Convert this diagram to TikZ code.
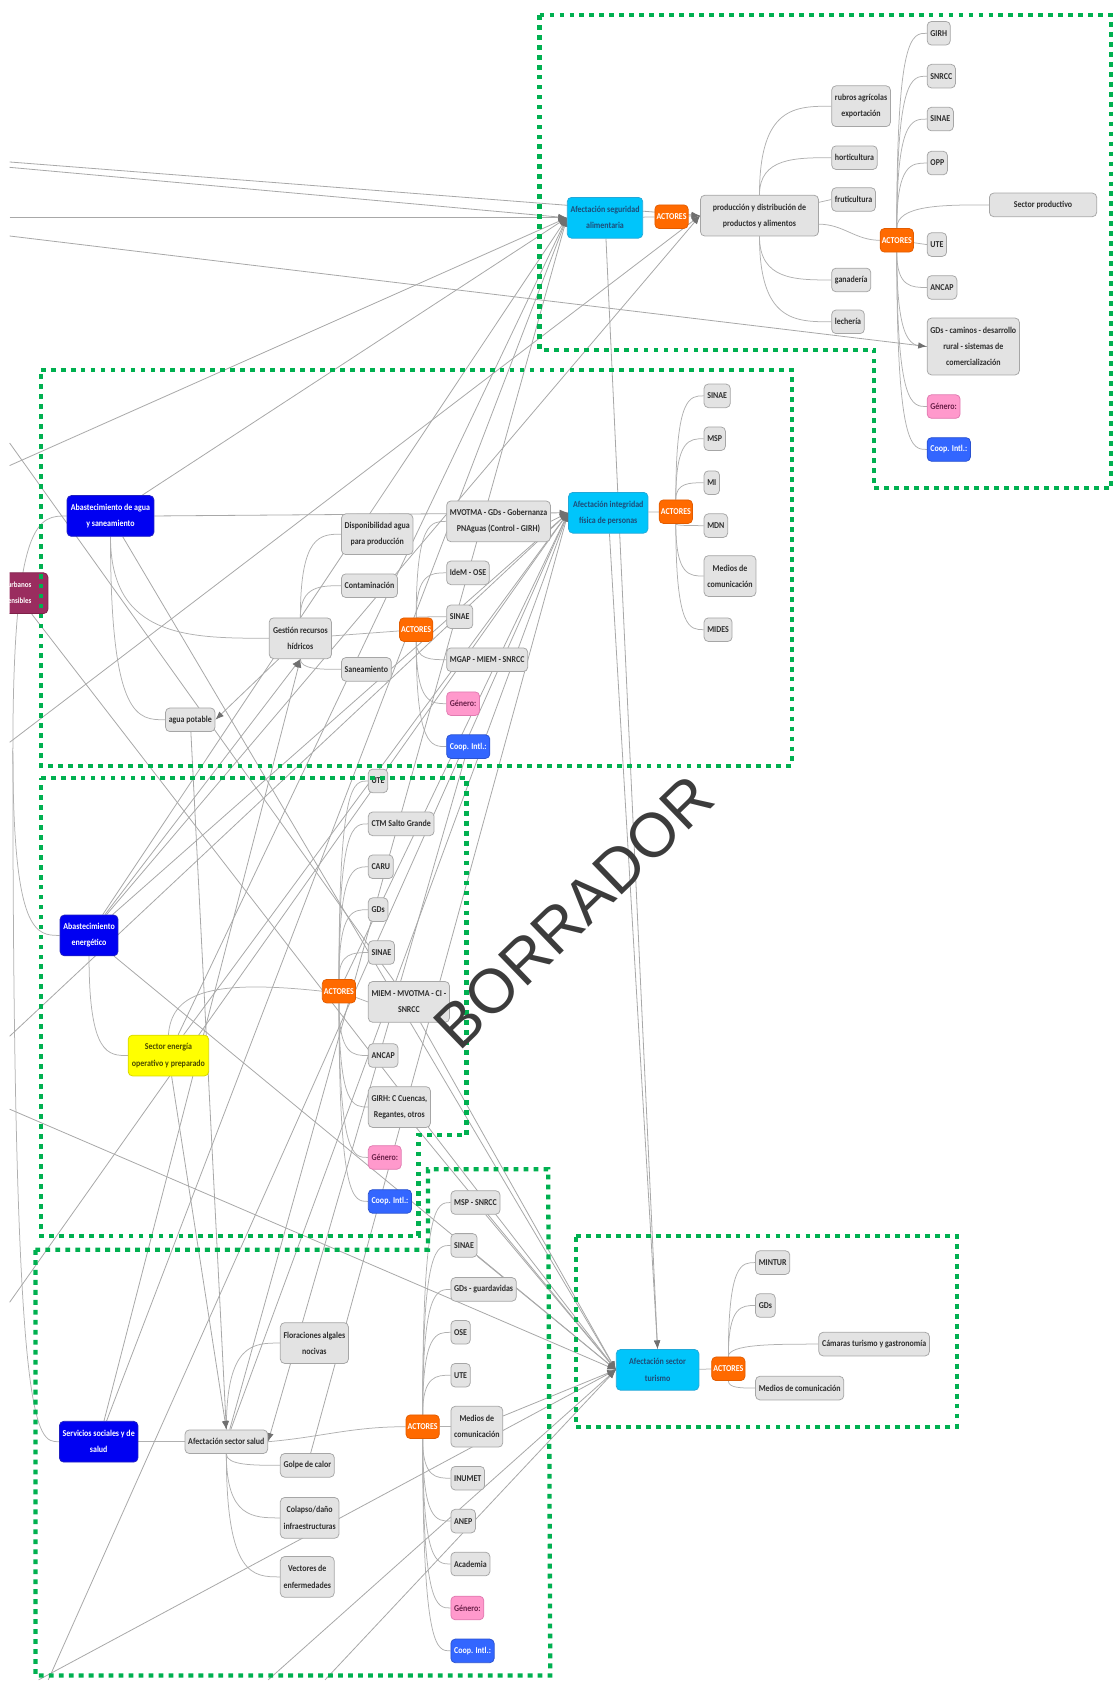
\documentclass[tikz,border=0pt]{standalone}
\usepackage{fontspec}
\setmainfont{Carlito}[FakeStretch=0.88]
\newfontfamily\stampfont{Liberation Sans}
\usetikzlibrary{arrows.meta,calc}
\pgfdeclarelayer{back}
\pgfdeclarelayer{front}
\pgfsetlayers{back,main,front}
\definecolor{gfill}{HTML}{E3E3E3}
\definecolor{gline}{HTML}{A6A6A6}
\definecolor{gtext}{HTML}{2E2E2E}
\definecolor{cyanbox}{HTML}{00C5FB}
\definecolor{cyanedge}{HTML}{22A8D8}
\definecolor{cyantext}{HTML}{1E4C78}
\definecolor{orangebox}{HTML}{FF6A00}
\definecolor{orangeedge}{HTML}{E25C00}
\definecolor{bluebox}{HTML}{0000F2}
\definecolor{blueedge}{HTML}{2020C0}
\definecolor{yellowbox}{HTML}{FFFF00}
\definecolor{yellowedge}{HTML}{D8D800}
\definecolor{yellowtext}{HTML}{4A4A00}
\definecolor{pinkbox}{HTML}{FF99CC}
\definecolor{pinkedge}{HTML}{E07AB0}
\definecolor{pinktext}{HTML}{6A2049}
\definecolor{coopbox}{HTML}{3366FF}
\definecolor{coopedge}{HTML}{2A52D0}
\definecolor{plumbox}{HTML}{9A2D5F}
\definecolor{plumedge}{HTML}{7E2048}
\definecolor{twigline}{HTML}{B0B0B0}
\definecolor{relline}{HTML}{A8A8A8}
\definecolor{tipgray}{HTML}{707070}
\definecolor{framegreen}{HTML}{00B050}
\definecolor{stamp}{HTML}{3C3C3C}
\begin{document}
\begin{tikzpicture}[x=1pt,y=-1pt,
  every node/.style={font=\bfseries\fontsize{8.4}{15}\selectfont, align=center,
    rounded corners=4pt, inner xsep=3pt, inner ysep=2pt, line width=0.7pt},
  gb/.style={draw=gline, fill=gfill, text=gtext, minimum height=22pt},
  lines2/.style={minimum height=38pt},
  lines3/.style={minimum height=53pt},
  cyb/.style={draw=cyanedge, fill=cyanbox, text=cyantext, minimum height=38pt},
  acb/.style={draw=orangeedge, fill=orangebox, text=white, minimum height=22pt, minimum width=31pt, inner xsep=1.5pt},
  blb/.style={draw=blueedge, fill=bluebox, text=white, minimum height=38pt},
  yeb/.style={draw=yellowedge, fill=yellowbox, text=yellowtext, minimum height=38pt},
  pkb/.style={draw=pinkedge, fill=pinkbox, text=pinktext, minimum height=22pt},
  cpb/.style={draw=coopedge, fill=coopbox, text=white, minimum height=22pt},
  plb/.style={draw=plumedge, fill=plumbox, text=white, minimum height=38pt},
  twig/.style={draw=twigline, line width=0.7pt},
  rel/.style={draw=relline, line width=0.75pt, -{Latex[length=8pt,width=6pt,color=tipgray]}},
  relnt/.style={draw=relline, line width=0.75pt},
  frm/.style={draw=framegreen, line width=4pt, dash pattern=on 4.5pt off 4.8pt},
  br/.style={to path={.. controls (\tikztostart |- \tikztotarget) and ($(\tikztostart |- \tikztotarget)!0.5!(\tikztotarget)$) .. (\tikztotarget)}}
]
\useasboundingbox (0,0) rectangle (1039,1568);

% ---------- food security ----------
\node[cyb, minimum width=70] (seg) at (564,203) {Afectación seguridad\\alimentaria};
\node[acb] (a1) at (626,202) {ACTORES};
\node[gb, lines2, minimum width=110] (prod) at (708,201) {producción y distribución de\\productos y alimentos};
\node[gb, lines2, anchor=west] (rubros) at (775,99) {rubros agrícolas\\exportación};
\node[gb, anchor=west] (horti) at (775,147) {horticultura};
\node[gb, anchor=west] (fruti) at (775,186) {fruticultura};
\node[gb, anchor=west] (gana) at (775,261) {ganadería};
\node[gb, anchor=west] (lech) at (775,300) {lechería};
\node[acb] (a2) at (836,224) {ACTORES};
\node[gb, anchor=west] (girhA) at (864,31) {GIRH};
\node[gb, anchor=west] (snrccA) at (864,71) {SNRCC};
\node[gb, anchor=west] (sinaeA) at (864,111) {SINAE};
\node[gb, anchor=west] (opp) at (864,152) {OPP};
\node[gb, anchor=west, minimum width=100] (secprod) at (922,191) {Sector productivo};
\node[gb, anchor=west] (uteA) at (864,228) {UTE};
\node[gb, anchor=west] (ancapA) at (864,268) {ANCAP};
\node[gb, lines3, anchor=west] (gdsc) at (864,323) {GDs - caminos - desarrollo\\rural - sistemas de\\comercialización};
\node[pkb, anchor=west] (genA) at (864,379) {Género:};
\node[cpb, anchor=west] (coopA) at (864,419) {Coop. Intl.:};

% ---------- water and physical integrity ----------
\node[blb, minimum width=81] (agua) at (103,481) {Abastecimiento de agua\\y saneamiento};
\begin{scope}
  \clip (9,0) rectangle (80,1568);
  \node[plb, anchor=east, align=right, minimum width=60, inner xsep=2pt,
        font=\bfseries\fontsize{7.4}{15}\selectfont] (urb) at (45,553) {urbanos\\y sensibles};
\end{scope}
\node[gb, lines2, anchor=west] (disp) at (318,498) {Disponibilidad agua\\para producción};
\node[gb, anchor=west] (contam) at (318,546) {Contaminación};
\node[gb, lines2, minimum width=58] (gest) at (280,595) {Gestión recursos\\hídricos};
\node[gb, anchor=west] (sanea) at (318,624) {Saneamiento};
\node[gb, anchor=west] (potable) at (154,671) {agua potable};
\node[acb] (aW) at (388,587) {ACTORES};
\node[gb, lines2, anchor=west] (mvotma) at (416,486) {MVOTMA - GDs - Gobernanza\\PNAguas (Control - GIRH)};
\node[gb, anchor=west] (idem) at (416,534) {IdeM - OSE};
\node[gb, anchor=west] (sinaeW) at (416,575) {SINAE};
\node[gb, anchor=west] (mgap) at (416,615) {MGAP - MIEM - SNRCC};
\node[pkb, anchor=west] (genW) at (416,656) {Género:};
\node[cpb, anchor=west] (coopW) at (416,696) {Coop. Intl.:};
\node[cyb, minimum width=74] (integ) at (567,478) {Afectación integridad\\física de personas};
\node[acb] (aI) at (630,477) {ACTORES};
\node[gb, anchor=west] (sinaeI) at (656,369) {SINAE};
\node[gb, anchor=west] (msp) at (656,409) {MSP};
\node[gb, anchor=west] (mi) at (656,450) {MI};
\node[gb, anchor=west] (mdn) at (656,490) {MDN};
\node[gb, lines2, anchor=west] (mediosI) at (656,537) {Medios de\\comunicación};
\node[gb, anchor=west] (mides) at (656,587) {MIDES};

% ---------- energy ----------
\node[blb, minimum width=53] (energ) at (83,872) {Abastecimiento\\energético};
\node[yeb, minimum width=75] (sector) at (157,984) {Sector energía\\operativo y preparado};
\node[acb] (aE) at (316,924) {ACTORES};
\node[gb, anchor=west] (uteE) at (343,728) {UTE};
\node[gb, anchor=west] (ctm) at (343,768) {CTM Salto Grande};
\node[gb, anchor=west] (caru) at (343,808) {CARU};
\node[gb, anchor=west] (gdsE) at (343,848) {GDs};
\node[gb, anchor=west] (sinaeE) at (343,888) {SINAE};
\node[gb, lines2, anchor=west] (miem) at (343,934) {MIEM - MVOTMA - CI -\\SNRCC};
\node[gb, anchor=west] (ancapE) at (343,984) {ANCAP};
\node[gb, lines2, anchor=west] (girhE) at (343,1032) {GIRH: C Cuencas,\\Regantes, otros};
\node[pkb, anchor=west] (genE) at (343,1079) {Género:};
\node[cpb, anchor=west] (coopE) at (343,1120) {Coop. Intl.:};

% ---------- health ----------
\node[blb, minimum width=73] (serv) at (92,1344) {Servicios sociales y de\\salud};
\node[gb, minimum width=77] (salud) at (211,1344) {Afectación sector salud};
\node[gb, lines2, anchor=west] (flor) at (261,1252) {Floraciones algales\\nocivas};
\node[gb, anchor=west] (golpe) at (261,1366) {Golpe de calor};
\node[gb, lines2, anchor=west] (colapso) at (261,1415) {Colapso/daño\\infraestructuras};
\node[gb, lines2, anchor=west] (vect) at (261,1470) {Vectores de\\enfermedades};
\node[acb] (aH) at (394,1330) {ACTORES};
\node[gb, anchor=west] (mspsn) at (420,1121) {MSP - SNRCC};
\node[gb, anchor=west] (sinaeH) at (420,1161) {SINAE};
\node[gb, anchor=west] (gdsg) at (420,1202) {GDs - guardavidas};
\node[gb, anchor=west] (ose) at (420,1242) {OSE};
\node[gb, anchor=west] (uteH) at (420,1282) {UTE};
\node[gb, lines2, anchor=west] (mediosH) at (420,1330) {Medios de\\comunicación};
\node[gb, anchor=west] (inumet) at (420,1378) {INUMET};
\node[gb, anchor=west] (anep) at (420,1418) {ANEP};
\node[gb, anchor=west] (acad) at (420,1458) {Academia};
\node[pkb, anchor=west] (genH) at (420,1499) {Género:};
\node[cpb, anchor=west] (coopH) at (420,1539) {Coop. Intl.:};

% ---------- tourism ----------
\node[cyb, minimum width=77] (tur) at (613,1277) {Afectación sector\\turismo};
\node[acb] (aT) at (679,1276) {ACTORES};
\node[gb, anchor=west] (mintur) at (704,1177) {MINTUR};
\node[gb, anchor=west] (gdsT) at (704,1217) {GDs};
\node[gb, anchor=west] (camaras) at (763,1253) {Cámaras turismo y gastronomía};
\node[gb, anchor=west] (mediosT) at (704,1294) {Medios de comunicación};

% ---------- free ends of links leaving the sheet ----------
\coordinate (root) at (12,700);
\coordinate (oL1) at (9,151);
\coordinate (oL2) at (9,156);
\coordinate (oL3) at (9,203);
\coordinate (oL4) at (9,220);
\coordinate (oL5) at (9,434);
\coordinate (oL6) at (9,692);
\coordinate (oL7) at (9,966);
\coordinate (oL8) at (9,1034);
\coordinate (oL9) at (9,1214);
\coordinate (oL10) at (9,413);
\coordinate (oB1) at (45,1566);
\coordinate (oB2) at (250,1566);
\coordinate (oB3) at (303,1566);
\coordinate (oB4) at (36,1566);

\begin{pgfonlayer}{back}
% branches of the map
\draw[twig] (root) to[br] (agua.west);
\draw[twig] (root) to[br] (energ.west);
\draw[twig] (root) to[br] (serv.west);

\draw[twig] (seg) -- (a1);
\foreach \c in {rubros,horti,gana,lech} \draw[twig] (prod) to[br] (\c.west);
\draw[twig] (prod) -- (fruti.west);
\draw[twig] ([yshift=-8pt]prod.east) to[out=0,in=180] (a2.west);
\foreach \c in {girhA,snrccA,sinaeA,opp,secprod,ancapA,gdsc,genA,coopA} \draw[twig] (a2) to[br] (\c.west);
\draw[twig] (a2) -- (uteA.west);

\draw[twig] (agua) to[br] (gest.west);
\draw[twig] (agua) to[br] (potable.west);
\foreach \c in {disp,contam,sanea} \draw[twig] (gest) to[br] (\c.west);
\draw[twig] (gest) -- (aW);
\foreach \c in {mvotma,idem,sinaeW,mgap,genW,coopW} \draw[twig] (aW) to[br] (\c.west);
\draw[twig] (integ) -- (aI);
\foreach \c in {sinaeI,msp,mi,mdn,mediosI,mides} \draw[twig] (aI) to[br] (\c.west);

\draw[twig] (energ) to[br] (sector.west);
\draw[twig] (aE.west) .. controls (190,912) and (160,928) .. (sector.north);
\foreach \c in {uteE,ctm,caru,gdsE,sinaeE,ancapE,girhE,genE,coopE} \draw[twig] (aE) to[br] (\c.west);
\draw[twig] (aE) -- (miem.west);

\draw[twig] (serv) -- (salud);
\foreach \c in {flor,golpe,colapso,vect} \draw[twig] (salud) to[br] (\c.west);
\draw[twig] (aH.west) to[out=180,in=5] (salud.east);
\foreach \c in {mspsn,sinaeH,gdsg,ose,uteH,inumet,anep,acad,genH,coopH} \draw[twig] (aH) to[br] (\c.west);
\draw[twig] (aH) -- (mediosH.west);

\draw[twig] (tur) -- (aT);
\foreach \c in {mintur,gdsT,camaras,mediosT} \draw[twig] (aT) to[br] (\c.west);

% relations between topics
\draw[rel] (a1) -- (prod.west);
\draw[rel] (oL1) -- (prod.west);
\draw[rel] (oL6) -- (prod.west);
\draw[rel] (energ) -- (prod.west);

\draw[rel] (oL2) -- (seg.west);
\draw[rel] (oL3) -- (seg.west);
\draw[rel] (oL5) -- (seg.west);
\draw[rel] (agua) -- (seg.west);
\draw[rel] (energ) -- (seg.west);
\draw[rel] (sector) -- (seg.west);
\draw[rel] (serv) -- (seg.west);
\draw[rel] (salud) -- (seg.west);

\draw[rel] (oL4) -- (gdsc.west);

\draw[rel] (agua.east) -- (integ.west);
\draw[rel] (mvotma.east) -- (integ.west);
\draw[rel] (oL7) -- (integ.west);
\draw[rel] (energ) -- (integ.west);
\draw[rel] (aE) -- (integ.west);
\draw[rel] (salud) -- (integ.west);
\draw[rel] (sector) -- (integ.west);
\draw[rel] (golpe) -- (integ.west);
\draw[rel] (oL9) -- (integ.west);
\draw[rel] (oB1) -- (integ.west);

\draw[rel] (seg) -- (tur.north);
\draw[rel] (integ) -- (tur.north);
\draw[rel] (miem) -- (tur.west);
\draw[rel] (girhE) -- (tur.west);
\draw[rel] (energ) -- (tur.west);
\draw[rel] (oL8) -- (tur.west);
\draw[rel] (mspsn) -- (tur.west);
\draw[rel] (sinaeH) -- (tur.west);
\draw[rel] (mediosH) -- (tur.west);
\draw[rel] (oB4) -- (tur.west);
\draw[rel] (oB2) -- (tur.west);
\draw[rel] (oB3) -- (tur.west);
\draw[rel] (urb) -- (tur.west);
\draw[rel] (agua) -- (tur.west);

\draw[rel] (serv) -- (gest.south);
\draw[rel] (energ) -- (gest.south);
\draw[rel] (gest) -- (potable.east);
\draw[rel] (potable) -- (salud.north);
\draw[rel] (sector) -- (salud.north);
\draw[rel] (coopW) -- (salud.east);
\draw[relnt] (oL10) -- (miem);
\end{pgfonlayer}

\begin{pgfonlayer}{front}
% dotted frames grouping each impact
\draw[frm] (503,14) -- (1036,14) -- (1036,455) -- (815,455) -- (815,326) -- (503,326) -- cycle;
\draw[frm] (38,345) -- (738,345) -- (738,714) -- (38,714) -- cycle;
\draw[frm] (38,725) -- (435,725) -- (435,1058) -- (390,1058) -- (390,1152) -- (38,1152) -- cycle;
\draw[frm] (33,1165) -- (399,1165) -- (399,1090) -- (511,1090) -- (513,1562) -- (33,1562) -- cycle;
\draw[frm] (537,1152) -- (892,1152) -- (892,1330) -- (537,1330) -- cycle;
% draft stamp
\node[rotate=44, font=\stampfont\fontsize{58}{58}\selectfont, text=stamp, inner sep=0pt] (stampmark) at (535,850) {BORRADOR};
\end{pgfonlayer}
\end{tikzpicture}
\end{document}
